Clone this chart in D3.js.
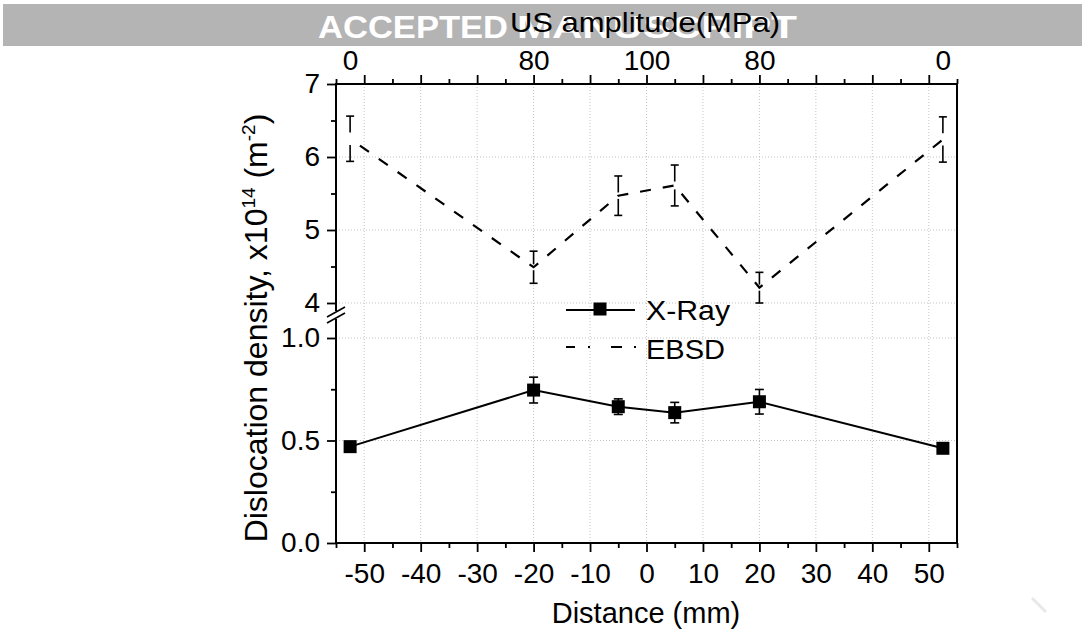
<!DOCTYPE html>
<html><head><meta charset="utf-8">
<script src="https://cdn.jsdelivr.net/npm/d3@7"></script>
<style>
html,body{margin:0;padding:0;background:#fff;}
svg{display:block;font-family:"Liberation Sans",Arial,sans-serif;}
</style></head>
<body>
<svg id="chart" width="1082" height="637"></svg>
<script>
// ---- data ----
const distance = [-52.5, -20, -5, 5, 20, 52.5];
const xrayValues = [0.47, 0.746, 0.665, 0.636, 0.689, 0.462];
const xrayErrors = [0.02, 0.063, 0.038, 0.05, 0.06, 0.02];
const ebsdValues = [6.25, 4.49, 5.47, 5.61, 4.21, 6.24];
const ebsdErrors = [0.31, 0.22, 0.27, 0.28, 0.21, 0.31];
const xTicksMajor = [-50, -40, -30, -20, -10, 0, 10, 20, 30, 40, 50];
const xTicksMinor = [-55, -45, -35, -25, -15, -5, 5, 15, 25, 35, 45, 55];
const topLabelPos = [-52.5, -20, 0, 20, 52.5];
const topLabels = ["0", "80", "100", "80", "0"];
const yUpperMajor = [4, 5, 6, 7];
const yUpperMinor = [4.5, 5.5, 6.5];
const yLowerMajor = [0, 0.5, 1.0];
const yLowerMinor = [0.25, 0.75];

const svg = d3.select("#chart");
const L = 336, R = 957, T = 84, B = 543;
const x = d3.scaleLinear().domain([-55, 55]).range([L, R]);
const yU = d3.scaleLinear().domain([4, 7]).range([303, 84]);
const yL = d3.scaleLinear().domain([0, 1]).range([543, 338]);
const breakTop = 311, breakBot = 317;
const FS = 28;

// ---- banner (watermark) ----
svg.append("rect").attr("x", 3).attr("y", 4).attr("width", 1079).attr("height", 42).attr("fill", "#b4b4b4");
svg.append("text").attr("x", 318).attr("y", 38).attr("fill", "#fff").attr("font-weight", "bold")
  .attr("font-size", 32).attr("textLength", 190).attr("lengthAdjust", "spacingAndGlyphs").text("ACCEPTED");
svg.append("text").attr("x", 517).attr("y", 38).attr("fill", "#fff").attr("font-weight", "bold")
  .attr("font-size", 32).attr("textLength", 280).attr("lengthAdjust", "spacingAndGlyphs").text("MANUSCRIPT");
svg.append("text").attr("x", 510).attr("y", 32).attr("fill", "#000")
  .attr("font-size", 27).attr("textLength", 270).attr("lengthAdjust", "spacingAndGlyphs").text("US amplitude(MPa)");
// faint watermark fragment bottom right
svg.append("path").attr("d", "M1032,598 L1046,612").attr("stroke", "#e8e8e8").attr("stroke-width", 3);

// ---- grid ----
const grid = svg.append("g").attr("stroke", "#c4c4c4").attr("stroke-width", 1).attr("stroke-dasharray", "1,2");
grid.selectAll(".gv").data(xTicksMajor).join("line")
  .attr("x1", d => x(d)).attr("x2", d => x(d)).attr("y1", T).attr("y2", B);
grid.selectAll(".gu").data([4, 5, 6]).join("line")
  .attr("x1", L).attr("x2", R).attr("y1", d => yU(d)).attr("y2", d => yU(d));
grid.selectAll(".gl").data([0.5, 1.0]).join("line")
  .attr("x1", L).attr("x2", R).attr("y1", d => yL(d)).attr("y2", d => yL(d));

// ---- axes ----
function styleAxis(g) {
  g.attr("font-family", null).attr("font-size", null);
  g.select(".domain").remove();
  g.selectAll(".tick line").attr("stroke", "#000").attr("stroke-width", 1.8);
  g.selectAll("text").attr("font-size", FS).attr("fill", "#000");
}
const fmtInt = d => String(d);
const fmt1 = d => d.toFixed(1);
// bottom
svg.append("g").attr("transform", `translate(0,${B})`)
  .call(d3.axisBottom(x).tickValues(xTicksMajor).tickSize(9).tickPadding(11).tickFormat(fmtInt)).call(styleAxis);
svg.append("g").attr("transform", `translate(0,${B})`)
  .call(d3.axisBottom(x).tickValues(xTicksMinor).tickSize(5).tickFormat("")).call(styleAxis);
// top
svg.append("g").attr("transform", `translate(0,${T})`)
  .call(d3.axisTop(x).tickValues(xTicksMajor).tickSize(9).tickFormat("")).call(styleAxis);
svg.append("g").attr("transform", `translate(0,${T})`)
  .call(d3.axisTop(x).tickValues(xTicksMinor).tickSize(5).tickFormat("")).call(styleAxis);
svg.append("g").attr("transform", `translate(0,${T})`)
  .call(d3.axisTop(x).tickValues(topLabelPos).tickSize(0).tickPadding(14).tickFormat((d, i) => topLabels[i])).call(styleAxis);
// left upper
svg.append("g").attr("transform", `translate(${L},0)`)
  .call(d3.axisLeft(yU).tickValues(yUpperMajor).tickSize(9).tickPadding(7).tickFormat(fmtInt)).call(styleAxis);
svg.append("g").attr("transform", `translate(${L},0)`)
  .call(d3.axisLeft(yU).tickValues(yUpperMinor).tickSize(5).tickFormat("")).call(styleAxis);
// left lower
svg.append("g").attr("transform", `translate(${L},0)`)
  .call(d3.axisLeft(yL).tickValues(yLowerMajor).tickSize(9).tickPadding(7).tickFormat(fmt1)).call(styleAxis);
svg.append("g").attr("transform", `translate(${L},0)`)
  .call(d3.axisLeft(yL).tickValues(yLowerMinor).tickSize(5).tickFormat("")).call(styleAxis);

// frame
const frame = svg.append("g").attr("stroke", "#000").attr("stroke-width", 2).attr("fill", "none");
frame.append("line").attr("x1", L - 1).attr("x2", R + 1).attr("y1", T).attr("y2", T);
frame.append("line").attr("x1", L - 1).attr("x2", R + 1).attr("y1", B).attr("y2", B);
frame.append("line").attr("x1", R).attr("x2", R).attr("y1", T).attr("y2", B);
frame.append("line").attr("x1", L).attr("x2", L).attr("y1", T).attr("y2", breakTop);
frame.append("line").attr("x1", L).attr("x2", L).attr("y1", breakBot + 2).attr("y2", B);
// break marks
frame.append("line").attr("x1", L - 9).attr("y1", breakTop + 6).attr("x2", L + 9).attr("y2", breakTop - 4).attr("stroke-width", 1.6);
frame.append("line").attr("x1", L - 9).attr("y1", breakBot + 6).attr("x2", L + 9).attr("y2", breakBot - 4).attr("stroke-width", 1.6);

// ---- EBSD series (dashed) ----
const ebsdData = distance.map((d, i) => ({ x: d, y: ebsdValues[i], e: ebsdErrors[i] }));
svg.append("path").datum(ebsdData)
  .attr("d", d3.line().x(d => x(d.x)).y(d => yU(d.y)))
  .attr("fill", "none").attr("stroke", "#000").attr("stroke-width", 2.2)
  .attr("stroke-dasharray", "11,12").attr("stroke-dashoffset", 11);
const eb = svg.append("g").attr("stroke", "#000").attr("stroke-width", 1.6);
ebsdData.forEach(d => {
  const cx = x(d.x), yt = yU(d.y + d.e), yb = yU(d.y - d.e), yc = yU(d.y);
  const half = yc - yt;
  const len = Math.min(16.5, half - 3);
  eb.append("line").attr("x1", cx).attr("x2", cx).attr("y1", yt).attr("y2", yt + len);
  eb.append("line").attr("x1", cx).attr("x2", cx).attr("y1", yb).attr("y2", yb - len);
  eb.append("line").attr("x1", cx - 4).attr("x2", cx + 4).attr("y1", yt).attr("y2", yt);
  eb.append("line").attr("x1", cx - 4).attr("x2", cx + 4).attr("y1", yb).attr("y2", yb);
});

// ---- X-Ray series ----
const xrayData = distance.map((d, i) => ({ x: d, y: xrayValues[i], e: xrayErrors[i] }));
svg.append("path").datum(xrayData)
  .attr("d", d3.line().x(d => x(d.x)).y(d => yL(d.y)))
  .attr("fill", "none").attr("stroke", "#000").attr("stroke-width", 2);
const xb = svg.append("g").attr("stroke", "#000").attr("stroke-width", 1.6);
xrayData.forEach(d => {
  const cx = x(d.x), yt = yL(d.y + d.e), yb = yL(d.y - d.e);
  xb.append("line").attr("x1", cx).attr("x2", cx).attr("y1", yt).attr("y2", yb);
  xb.append("line").attr("x1", cx - 4.5).attr("x2", cx + 4.5).attr("y1", yt).attr("y2", yt);
  xb.append("line").attr("x1", cx - 4.5).attr("x2", cx + 4.5).attr("y1", yb).attr("y2", yb);
});
svg.append("g").selectAll("rect").data(xrayData).join("rect")
  .attr("x", d => x(d.x) - 6.5).attr("y", d => yL(d.y) - 6.5)
  .attr("width", 13).attr("height", 13).attr("fill", "#000");

// ---- legend ----
const lg = svg.append("g");
lg.append("line").attr("x1", 566).attr("x2", 635).attr("y1", 310).attr("y2", 310).attr("stroke", "#000").attr("stroke-width", 2);
lg.append("rect").attr("x", 593.5).attr("y", 302.5).attr("width", 13).attr("height", 13).attr("fill", "#000");
lg.append("text").attr("x", 646).attr("y", 319.5).attr("font-size", 27).attr("textLength", 84).attr("lengthAdjust", "spacingAndGlyphs").text("X-Ray");
lg.append("line").attr("x1", 566).attr("x2", 636).attr("y1", 347).attr("y2", 347).attr("stroke", "#000").attr("stroke-width", 2)
  .attr("stroke-dasharray", "9,13,2,21,11,12,2,20");
lg.append("text").attr("x", 646).attr("y", 359).attr("font-size", 27).attr("textLength", 79).attr("lengthAdjust", "spacingAndGlyphs").text("EBSD");

// ---- axis titles ----
svg.append("text").attr("x", 646).attr("y", 623).attr("text-anchor", "middle").attr("font-size", 29).text("Distance (mm)");
const yt = svg.append("text").attr("transform", "translate(267,328) rotate(-90)").attr("text-anchor", "middle").attr("font-size", 32);
yt.append("tspan").text("Dislocation density, x10");
yt.append("tspan").attr("font-size", 19).attr("dy", -12).text("14");
yt.append("tspan").attr("dy", 12).text(" (m");
yt.append("tspan").attr("font-size", 19).attr("dy", -12).text("-2");
yt.append("tspan").attr("dy", 12).text(")");
</script>
</body></html>
